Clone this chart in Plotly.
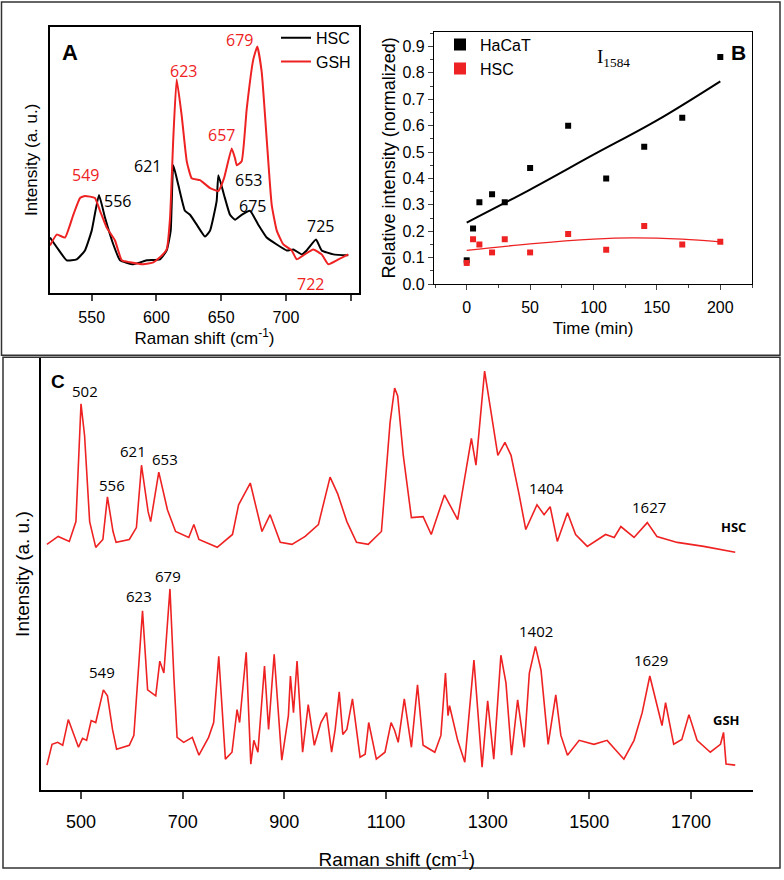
import plotly.graph_objects as go

# ---------------- Panel A data (Raman shift, intensity a.u.) ----------------
a_x_hsc = [517.8, 524.2, 530.7, 538.4, 544.8, 550.0, 555.6, 560.3, 566.7, 571.9, 582.1, 592.5,
           602.7, 607.9, 611.0, 613.0, 616.9, 622.0, 625.9, 631.1, 637.5, 641.4, 646.5, 647.8,
           652.2, 656.8, 660.7, 665.8, 672.2, 678.6, 685.1, 692.9, 700.6, 705.7, 712.2, 716.0,
           723.2, 727.6, 736.6, 748.1]
a_y_hsc = [56, 44, 33, 34, 43, 63, 99, 76, 49, 33, 29, 33,
           34, 43, 63, 129, 109, 83, 79, 69, 57, 63, 93, 119,
           99, 79, 74, 79, 83, 69, 56, 49, 43, 44, 39, 43,
           54, 43, 39, 38]
a_x_gsh = [517.8, 523.0, 529.4, 535.8, 541.0, 544.8, 552.5, 556.4, 561.6, 568.0, 573.2, 579.6,
           589.8, 597.6, 602.7, 607.9, 610.5, 613.0, 615.6, 619.5, 623.4, 627.2, 633.6, 641.4,
           647.8, 652.2, 658.1, 660.7, 662.0, 665.8, 669.7, 674.8, 677.9, 681.3, 685.1, 689.0,
           692.9, 698.0, 704.4, 708.3, 713.4, 721.1, 727.6, 732.7, 739.2, 748.1]
a_y_gsh = [48, 59, 56, 79, 96, 98, 96, 83, 66, 53, 33, 31,
           29, 31, 36, 44, 76, 156, 216, 179, 133, 116, 114, 106,
           103, 116, 146, 136, 129, 133, 186, 236, 249, 223, 156, 89,
           63, 49, 43, 34, 38, 44, 39, 29, 33, 39]
a_xticks = [550, 600, 650, 700]
a_xminor = [750]
a_labels_hsc = ["556", "621", "653", "675", "725"]
a_labx_hsc = [570.3, 592.7, 670.7, 673.8, 726.3]
a_laby_hsc = [93, 128, 114, 88, 68]
a_labels_gsh = ["549", "623", "657", "679", "722"]
a_labx_gsh = [545.4, 620.5, 650.6, 664.5, 718.6]
a_laby_gsh = [119, 224, 160, 256, 9]

# ---------------- Panel B data ----------------
b_time = [0, 5, 10, 20, 30, 50, 80, 110, 140, 170, 200]
b_hacat = [0.09, 0.21, 0.31, 0.34, 0.31, 0.44, 0.60, 0.40, 0.52, 0.63, 0.86]
b_hsc = [0.08, 0.17, 0.15, 0.12, 0.17, 0.12, 0.19, 0.13, 0.22, 0.15, 0.16]
b_fit_t_hacat = [0, 50, 100, 150, 200]
b_fit_hacat = [0.233, 0.358, 0.49, 0.62, 0.768]
b_fit_t_hsc = [0, 50, 100, 130, 170, 200]
b_fit_hsc = [0.128, 0.152, 0.170, 0.175, 0.170, 0.160]

# ---------------- Panel C data ----------------
c_x_hsc = [433, 455, 477, 490, 500, 507, 517, 529, 543, 552, 563, 569, 595, 609, 619, 632, 637,
           653, 670, 686, 712, 722, 732, 768, 798, 810, 833, 845, 856, 872, 892, 915, 941, 967,
           990, 1005, 1023, 1042, 1065, 1091, 1108, 1117, 1123, 1134, 1150, 1173, 1189, 1215,
           1241, 1268, 1277, 1294, 1310, 1320, 1334, 1346, 1362, 1375, 1397, 1411, 1423, 1437,
           1457, 1473, 1496, 1532, 1549, 1562, 1588, 1614, 1633, 1673, 1725, 1787]
c_y_hsc = [248, 256, 251, 271, 390, 358, 271, 245, 253, 296, 261, 250, 253, 265, 328, 281, 271,
           321, 283, 261, 255, 268, 253, 245, 258, 288, 310, 285, 261, 278, 250, 248, 256, 268,
           316, 299, 271, 250, 248, 261, 371, 406, 398, 338, 275, 276, 258, 298,
           273, 355, 328, 423, 371, 338, 351, 338, 298, 263, 288, 278, 286, 251,
           280, 258, 246, 258, 255, 266, 255, 270, 256, 250, 246, 240]
c_x_gsh = [433, 443, 454, 464, 475, 495, 503, 511, 520, 529, 544, 552, 562, 570, 595, 604, 621,
           631, 647, 655, 663, 675, 683, 689, 702, 719, 732, 751, 761, 771, 784, 797, 807, 812,
           825, 834, 840, 848, 861, 869, 880, 895, 908, 912, 918, 925, 936, 947, 959, 972, 983,
           993, 1000, 1008, 1015, 1023, 1034, 1049, 1059, 1066, 1081, 1098, 1110, 1117, 1124,
           1136, 1150, 1162, 1173, 1196, 1208, 1217, 1222, 1225, 1241, 1255, 1273, 1281, 1289,
           1300, 1312, 1326, 1336, 1347, 1359, 1372, 1382, 1394, 1405, 1419, 1434, 1444, 1457,
           1480, 1509, 1535, 1568, 1588, 1604, 1619, 1637, 1643, 1650, 1666, 1682, 1696, 1712,
           1738, 1758, 1764, 1769, 1787]
c_y_gsh = [25, 46, 48, 45, 71, 43, 52, 50, 70, 68, 101, 95, 61, 41, 45, 55, 181,
           101, 95, 130, 118, 203, 111, 53, 48, 53, 35, 53, 68, 135, 31, 38, 81, 68,
           139, 26, 50, 38, 125, 61, 137, 30, 75, 115, 78, 130, 38, 86, 45, 68, 78,
           38, 61, 99, 56, 61, 92, 33, 36, 68, 31, 38, 68, 60, 48,
           92, 43, 106, 45, 38, 55, 118, 75, 85, 50, 28, 131, 78, 23,
           90, 31, 136, 108, 35, 91, 43, 118, 145, 121, 46, 96, 55, 35,
           50, 46, 50, 31, 50, 78, 115, 78, 65, 88, 46, 51, 76, 50,
           38, 46, 58, 26, 25]
c_xticks = [500, 700, 900, 1100, 1300, 1500, 1700]
c_labels = ["502", "556", "621", "653", "1404", "1627", "549", "623", "679", "1402", "1629"]
c_labx = [508, 561, 602, 665, 1415, 1617, 541, 614, 671, 1395, 1621]
c_laby = [403, 308, 342, 334, 305, 286, 119, 196, 216, 160, 131]

RED = "#ee2222"
W, H = 784, 880

def px(x):
    return x / W

def py(y):
    return 1 - y / H

fig = go.Figure()

# Panel A traces
fig.add_trace(go.Scatter(x=a_x_hsc, y=a_y_hsc, mode="lines", name="HSC",
                         line=dict(color="black", width=2, shape="spline", smoothing=0.4),
                         xaxis="x", yaxis="y", legend="legend"))
fig.add_trace(go.Scatter(x=a_x_gsh, y=a_y_gsh, mode="lines", name="GSH",
                         line=dict(color=RED, width=2, shape="spline", smoothing=0.4),
                         xaxis="x", yaxis="y", legend="legend"))

# Panel B traces
fig.add_trace(go.Scatter(x=b_time, y=b_hacat, mode="markers", name="HaCaT",
                         marker=dict(symbol="square", color="black", size=6),
                         xaxis="x2", yaxis="y2", legend="legend2"))
fig.add_trace(go.Scatter(x=b_time, y=b_hsc, mode="markers", name="HSC",
                         marker=dict(symbol="square", color=RED, size=6),
                         xaxis="x2", yaxis="y2", legend="legend2"))
fig.add_trace(go.Scatter(x=b_fit_t_hacat, y=b_fit_hacat, mode="lines", showlegend=False,
                         line=dict(color="black", width=2, shape="spline"),
                         xaxis="x2", yaxis="y2"))
fig.add_trace(go.Scatter(x=b_fit_t_hsc, y=b_fit_hsc, mode="lines", showlegend=False,
                         line=dict(color=RED, width=1.3, shape="spline"),
                         xaxis="x2", yaxis="y2"))

# Panel C traces
fig.add_trace(go.Scatter(x=c_x_hsc, y=c_y_hsc, mode="lines", showlegend=False,
                         line=dict(color=RED, width=1.6), xaxis="x3", yaxis="y3"))
fig.add_trace(go.Scatter(x=c_x_gsh, y=c_y_gsh, mode="lines", showlegend=False,
                         line=dict(color=RED, width=1.6), xaxis="x3", yaxis="y3"))

ann = []
LAB = "Open Sans"
for t, x, y in zip(a_labels_hsc, a_labx_hsc, a_laby_hsc):
    ann.append(dict(x=x, y=y, xref="x", yref="y", text=t, showarrow=False,
                    font=dict(family=LAB, size=16, color="black")))
for t, x, y in zip(a_labels_gsh, a_labx_gsh, a_laby_gsh):
    ann.append(dict(x=x, y=y, xref="x", yref="y", text=t, showarrow=False,
                    font=dict(family=LAB, size=16, color=RED)))
ann.append(dict(x=533.3, y=243, xref="x", yref="y", text="<b>A</b>", showarrow=False,
                font=dict(family="Arial", size=22, color="black")))
ann.append(dict(x=115.6, y=0.858, xref="x2", yref="y2", text="I<sub>1584</sub>", showarrow=False,
                font=dict(family="Liberation Serif", size=19, color="black")))
ann.append(dict(x=214, y=0.876, xref="x2", yref="y2", text="<b>B</b>", showarrow=False,
                font=dict(family="Arial", size=21, color="black")))
for t, x, y in zip(c_labels, c_labx, c_laby):
    ann.append(dict(x=x, y=y, xref="x3", yref="y3", text=t, showarrow=False,
                    font=dict(family=LAB, size=15, color="black")))
ann.append(dict(x=455, y=413, xref="x3", yref="y3", text="<b>C</b>", showarrow=False,
                font=dict(family="Arial", size=19, color="black")))
ann.append(dict(x=1783, y=266, xref="x3", yref="y3", text="<b>HSC</b>", showarrow=False,
                font=dict(family=LAB, size=13, color="black")))
ann.append(dict(x=1769, y=71, xref="x3", yref="y3", text="<b>GSH</b>", showarrow=False,
                font=dict(family=LAB, size=13, color="black")))

shapes = [
    dict(type="rect", xref="paper", yref="paper", x0=px(1.5), x1=px(780), y0=py(359), y1=py(2),
         line=dict(color="#333", width=1.5), layer="below"),
    dict(type="rect", xref="paper", yref="paper", x0=px(3), x1=px(780), y0=py(877), y1=py(361),
         line=dict(color="#333", width=1.5), layer="below"),
]

axfont = dict(family="Arial", size=16, color="black")
fig.update_layout(
    width=W, height=H, margin=dict(l=0, r=0, t=0, b=0),
    paper_bgcolor="white", plot_bgcolor="white",
    font=dict(family="Arial", color="black"),
    annotations=ann, shapes=shapes,
    xaxis=dict(domain=[px(50), px(359)], range=[517.8, 756.4], tickvals=a_xticks,
               ticks="outside", ticklen=6, tickwidth=1.5, ticklabelstandoff=3,
               minor=dict(tickvals=a_xminor, ticks="outside", ticklen=6, tickwidth=1.5),
               showline=True, mirror=True, linecolor="black", linewidth=1.5,
               showgrid=False, zeroline=False, tickfont=axfont,
               title=dict(text="Raman shift (cm<sup>-1</sup>)", font=dict(size=17), standoff=6),
               anchor="y"),
    yaxis=dict(domain=[py(296), py(27)], range=[0, 269], showticklabels=False, ticks="",
               showline=True, mirror=True, linecolor="black", linewidth=1.5,
               showgrid=False, zeroline=False,
               title=dict(text="Intensity (a. u.)", font=dict(size=17), standoff=6),
               anchor="x"),
    xaxis2=dict(domain=[px(434), px(752)], range=[-25.8, 225], tickvals=[0, 50, 100, 150, 200],
                ticks="outside", ticklen=5, tickwidth=1.2, ticklabelstandoff=4,
                minor=dict(dtick=25, ticks="outside", ticklen=3, tickwidth=1),
                showline=True, mirror=True, linecolor="black", linewidth=1.2,
                showgrid=False, zeroline=False, tickfont=axfont,
                title=dict(text="Time (min)", font=dict(size=17), standoff=6),
                anchor="y2"),
    yaxis2=dict(domain=[py(287), py(32)], range=[0, 0.956], dtick=0.1, tick0=0, tickformat=".1f",
                ticks="outside", ticklen=5, tickwidth=1.2,
                minor=dict(dtick=0.05, ticks="outside", ticklen=3, tickwidth=1),
                showline=True, mirror=True, linecolor="black", linewidth=1.2,
                showgrid=False, zeroline=False, tickfont=axfont,
                title=dict(text="Relative intensity (normalized)", font=dict(size=18), standoff=2),
                anchor="x2"),
    xaxis3=dict(domain=[px(40.7), px(753)], range=[420.7, 1822], tickvals=c_xticks,
                ticks="outside", ticklen=7, tickwidth=1.5, ticklabelstandoff=8,
                showline=True, mirror=False, linecolor="black", linewidth=1.5,
                showgrid=False, zeroline=False, tickfont=dict(family="Arial", size=18),
                title=dict(text="Raman shift (cm<sup>-1</sup>)", font=dict(size=19), standoff=22),
                anchor="y3"),
    yaxis3=dict(domain=[py(798), py(362)], range=[0, 436], showticklabels=False, ticks="",
                showline=True, mirror=False, linecolor="black", linewidth=1.5,
                showgrid=False, zeroline=False,
                title=dict(text="Intensity (a. u.)", font=dict(size=19), standoff=4),
                anchor="x3"),
    legend=dict(x=px(276), y=py(21), xanchor="left", yanchor="top", bgcolor="rgba(0,0,0,0)",
                font=dict(family="Arial", size=16), itemwidth=30, tracegroupgap=0),
    legend2=dict(x=px(440), y=py(28), xanchor="left", yanchor="top", bgcolor="rgba(0,0,0,0)",
                 font=dict(family="Arial", size=16), itemsizing="constant"),
)

fig.write_html("out.html", config={"displayModeBar": False},
               post_script="document.body.style.margin='0';")
